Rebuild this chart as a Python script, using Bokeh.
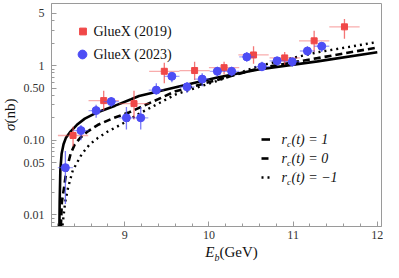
from bokeh.plotting import figure
from bokeh.models import (ColumnDataSource, FixedTicker, Legend, LegendItem, Label, Range1d, Div)
from bokeh.layouts import row, column
from bokeh.embed import file_html
from bokeh.resources import INLINE

# ---- data ----
# GlueX (2019)
e19 = [8.386, 8.75, 9.11, 9.47, 9.83, 10.18, 10.53, 10.90, 11.25, 11.61]
s19 = [0.116, 0.34, 0.31, 0.84, 0.86, 0.94, 1.39, 1.27, 2.15, 3.31]
s19_lo = [0.083, 0.25, 0.19, 0.58, 0.64, 0.76, 1.06, 1.03, 1.52, 2.3]
s19_hi = [0.152, 0.46, 0.46, 1.09, 1.13, 1.13, 1.82, 1.52, 2.93, 4.2]
e19_err = [0.18] * 10

# GlueX (2023)
e23 = [8.295, 8.48, 8.66, 8.84, 9.02, 9.19, 9.375, 9.56, 9.74, 9.92,
       10.10, 10.27, 10.45, 10.63, 10.81, 10.99, 11.17, 11.34]
s23 = [0.043, 0.135, 0.25, 0.33, 0.20, 0.20, 0.47, 0.72, 0.52, 0.66,
       0.84, 0.84, 1.31, 0.97, 1.16, 1.13, 1.57, 1.82]
s23_lo = [0.014, 0.10, 0.20, 0.28, 0.14, 0.14, 0.41, 0.60, 0.43, 0.53,
          0.72, 0.72, 1.13, 0.84, 1.0, 0.97, 1.35, 1.52]
s23_hi = [0.072, 0.16, 0.30, 0.38, 0.28, 0.28, 0.58, 0.79, 0.60, 0.79,
          0.97, 0.97, 1.52, 1.13, 1.31, 1.23, 1.82, 2.05]
e23_err = [0.09] * 18

# model curves
e_r1 = [8.222, 8.224, 8.227, 8.235, 8.25, 8.273, 8.30, 8.356, 8.432, 8.526,
        8.678, 8.886, 9.076, 9.17, 9.606, 10.10, 10.59, 11.29, 12.0]
s_r1 = [0.005, 0.0073, 0.0148, 0.0396, 0.0658, 0.0887, 0.107, 0.131, 0.161, 0.195,
        0.238, 0.291, 0.354, 0.392, 0.513, 0.692, 0.89, 1.14, 1.51]
e_r0 = [8.240, 8.242, 8.253, 8.281, 8.307, 8.356, 8.406, 8.469, 8.557, 8.678,
        8.849, 9.057, 9.17, 9.606, 10.10, 10.59, 11.29, 12.0]
s_r0 = [0.005, 0.0073, 0.0148, 0.024, 0.0396, 0.0652, 0.0879, 0.107, 0.131, 0.160,
        0.195, 0.238, 0.272, 0.455, 0.644, 0.92, 1.26, 1.75]
e_rm1 = [8.258, 8.261, 8.292, 8.33, 8.383, 8.489, 8.583, 8.678, 8.799, 8.943,
         9.076, 9.163, 9.606, 10.10, 10.59, 11.29, 12.0]
s_rm1 = [0.005, 0.0073, 0.0148, 0.024, 0.0396, 0.0652, 0.0879, 0.107, 0.131, 0.160,
         0.195, 0.225, 0.412, 0.625, 0.99, 1.51, 2.07]

x_major = [9, 10, 11, 12]
x_minor = [8.2, 8.4, 8.6, 8.8, 9.2, 9.4, 9.6, 9.8, 10.2, 10.4, 10.6, 10.8,
           11.2, 11.4, 11.6, 11.8]
y_major = [0.01, 0.05, 0.1, 0.5, 1, 5]
y_labels = ["0.01", "0.05", "0.10", "0.50", "1", "5"]
y_minor = [0.007, 0.008, 0.009, 0.02, 0.03, 0.04, 0.06, 0.07, 0.08, 0.09,
           0.2, 0.3, 0.4, 0.6, 0.7, 0.8, 0.9, 2, 3, 4]

legend_data = ["GlueX (2019)", "GlueX (2023)"]
legend_rc = ["1", "0", "\u22121"]

RED = "#f04848"
BLUE = "#4d4df5"
SERIF = "Liberation Serif"

FIG_W, FIG_H = 363, 244
p = figure(width=FIG_W, height=FIG_H, output_backend="svg", toolbar_location=None,
           y_axis_type="log", x_range=Range1d(8.13, 12.05), y_range=Range1d(0.007, 6.8),
           min_border_left=30, min_border_right=2, min_border_top=3, min_border_bottom=18)
p.background_fill_color = "white"
p.border_fill_color = "white"
p.grid.visible = False
p.outline_line_color = "#9a9a9a"
p.outline_line_width = 1

for ax, maj, mino in ((p.xaxis[0], x_major, x_minor), (p.yaxis[0], y_major, y_minor)):
    ax.ticker = FixedTicker(ticks=maj, minor_ticks=mino)
    ax.axis_line_color = "#9a9a9a"
    ax.major_tick_line_color = "#9a9a9a"
    ax.minor_tick_line_color = "#9a9a9a"
    ax.major_tick_in = 5
    ax.major_tick_out = 0
    ax.minor_tick_in = 3
    ax.minor_tick_out = 0
    ax.major_label_text_font = SERIF
    ax.major_label_text_font_size = "12px"
    ax.major_label_text_color = "#333333"
    ax.axis_label = None
p.yaxis[0].major_label_overrides = {v: t for v, t in zip(y_major, y_labels)}
p.yaxis[0].major_label_standoff = 7
p.xaxis[0].major_label_standoff = 4

# model curves
src1 = ColumnDataSource(dict(x=e_r1, y=s_r1))
src0 = ColumnDataSource(dict(x=e_r0, y=s_r0))
srcm = ColumnDataSource(dict(x=e_rm1, y=s_rm1))
r_dot = p.line("x", "y", source=srcm, line_color="black", line_width=2.4, line_dash="2 4")
r_dash = p.line("x", "y", source=src0, line_color="black", line_width=2.6, line_dash="7 4")
r_sol = p.line("x", "y", source=src1, line_color="black", line_width=2.6)

# GlueX 2019 error bars and points
d19 = ColumnDataSource(dict(x=e19, y=s19, lo=s19_lo, hi=s19_hi,
                            xl=[a - b for a, b in zip(e19, e19_err)],
                            xr=[a + b for a, b in zip(e19, e19_err)]))
p.segment("xl", "y", "xr", "y", source=d19, line_color=RED, line_alpha=0.45, line_width=1.3)
p.segment("x", "lo", "x", "hi", source=d19, line_color=RED, line_alpha=0.75, line_width=1.3)
m19 = p.scatter("x", "y", source=d19, marker="square", size=6, fill_color=RED, line_color=RED)

# GlueX 2023 error bars and points
d23 = ColumnDataSource(dict(x=e23, y=s23, lo=s23_lo, hi=s23_hi,
                            xl=[a - b for a, b in zip(e23, e23_err)],
                            xr=[a + b for a, b in zip(e23, e23_err)]))
p.segment("xl", "y", "xr", "y", source=d23, line_color=BLUE, line_alpha=0.5, line_width=1.3)
p.segment("x", "lo", "x", "hi", source=d23, line_color=BLUE, line_alpha=0.75, line_width=1.3)
m23 = p.scatter("x", "y", source=d23, marker="circle", size=8, fill_color=BLUE, line_color=BLUE)

FB = 226  # frame bottom (canvas px)
FL = 50   # frame left (canvas px)

def glyph_key(renderer, cx, cy, gw, gh):
    # one-item legend whose glyph box is centred on (cx, cy) in canvas px
    leg = Legend(items=[LegendItem(label=" ", renderers=[renderer])],
                 location=(cx - gw / 2 - FL, FB - (cy + gh / 2)),
                 glyph_width=gw, glyph_height=gh, label_height=gh,
                 spacing=0, padding=0, margin=0, label_standoff=0,
                 label_text_font_size="6px",
                 border_line_color=None, background_fill_alpha=0)
    p.add_layout(leg)

def lab(x, y, text, size, style="italic"):
    p.add_layout(Label(x=x - FL, y=FB - y, x_units="screen", y_units="screen", text=text,
                       text_font=SERIF, text_font_size=size, text_font_style=style,
                       text_color="#111111", text_baseline="middle"))

# data legend (top left)
glyph_key(m19, 81, 31, 17, 24)
glyph_key(m23, 81, 53.5, 22, 24)
lab(92, 31, legend_data[0], "14px", style="normal")
lab(92, 53.5, legend_data[1], "14px", style="normal")

# model legend (lower right)
for row_y, val, rend in zip((139, 158, 177), legend_rc, (r_sol, r_dash, r_dot)):
    glyph_key(rend, 264.5, row_y, 9, 20)
    lab(280, row_y, "r", "14px")
    lab(285.5, row_y + 4, "c", "9px")
    lab(290, row_y, "(t) =  " + val, "14px")

# axis titles as real HTML text (kept outside the clipped frame)
xlab = Div(width=FIG_W, height=18, margin=0,
           text=("<div style=\"font-family:'Liberation Serif';font-size:15px;color:#111;"
                 "width:363px;box-sizing:border-box;padding-left:60px;text-align:center;"
                 "line-height:16px;white-space:nowrap\">"
                 "<i>E</i><sub style='font-size:10px'><i>b</i></sub>(GeV)</div>"))
ylab = Div(width=20, height=FIG_H, margin=0,
           text=("<div style=\"font-family:'Liberation Serif';font-size:15px;color:#111;"
                 "writing-mode:vertical-rl;transform:rotate(180deg);height:223px;width:20px;"
                 "margin-top:3px;text-align:center;line-height:20px;white-space:nowrap\">"
                 "<i>\u03c3</i>(nb)</div>"))

layout = row(ylab, column(p, xlab, spacing=0), spacing=0)

open("out.html", "w").write(file_html(layout, INLINE))
